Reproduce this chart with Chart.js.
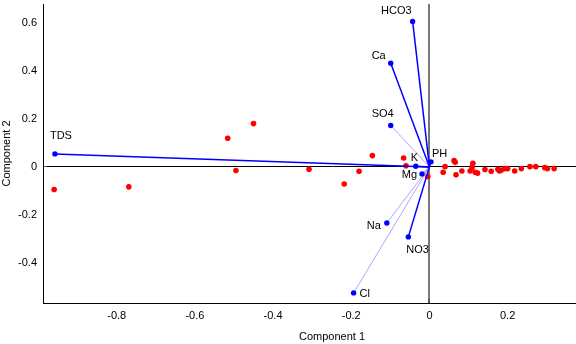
<!DOCTYPE html>
<html>
<head>
<meta charset="utf-8">
<script src="https://cdn.jsdelivr.net/npm/chart.js@4.4.0/dist/chart.umd.min.js"></script>
<style>
    body { margin: 0; background: #fff; overflow: hidden; }
    #wrap { width: 625px; height: 344px; }
</style>
</head>
<body>
<div id="wrap"><canvas id="biplot" width="625" height="344"></canvas></div>
<script>
// variable loadings (blue vectors)
const varNames = ['TDS', 'HCO3', 'Ca', 'SO4', 'PH', 'K', 'Mg', 'Na', 'NO3', 'Cl'];
const varX = [-0.958, -0.043, -0.099, -0.099, 0.004, -0.035, -0.019, -0.109, -0.054, -0.194];
const varY = [0.054, 0.605, 0.431, 0.172, 0.021, 0.003, -0.029, -0.233, -0.291, -0.524];

// observation scores (red dots)
const obsX = [-0.960, -0.769, -0.516, -0.450, -0.495, -0.308, -0.218, -0.180, -0.146, -0.066,
    -0.060, -0.004, 0.040, 0.035, 0.063, 0.066, 0.068, 0.083, 0.111, 0.109,
    0.104, 0.117, 0.123, 0.142, 0.158, 0.175, 0.179, 0.184, 0.193, 0.200,
    0.218, 0.235, 0.257, 0.272, 0.295, 0.302, 0.319];
const obsY = [-0.094, -0.083, 0.119, 0.180, -0.015, -0.010, -0.071, -0.018, 0.047, 0.037,
    0.005, -0.040, 0.001, -0.022, 0.026, 0.019, -0.033, -0.017, 0.015, -0.002,
    -0.017, -0.022, -0.026, -0.011, -0.018, -0.010, -0.017, -0.013, -0.007, -0.007,
    -0.017, -0.007, 0.001, 0.001, -0.003, -0.007, -0.007];

const xTicks = [-0.8, -0.6, -0.4, -0.2, 0, 0.2];
const yTicks = [-0.4, -0.2, 0, 0.2, 0.4, 0.6];

// styling for each vector: heavy or light stroke, label offset/alignment
const heavy = [true, true, true, false, true, true, false, false, true, false];
const labelStyle = [
    { dx: -5, dy: -18, align: 'left' },
    { dx: -1, dy: -10, align: 'right' },
    { dx: -5, dy: -7, align: 'right' },
    { dx: 3, dy: -12, align: 'right' },
    { dx: 1, dy: -8, align: 'left' },
    { dx: -5, dy: -8, align: 'left' },
    { dx: -5, dy: 1, align: 'right' },
    { dx: -6, dy: 3, align: 'right' },
    { dx: -2, dy: 13, align: 'left' },
    { dx: 6, dy: 1, align: 'left' }
];

const FONT = '"Liberation Sans", Arial, Helvetica, sans-serif';

const datasets = [{
    label: 'scores',
    data: obsX.map((x, i) => ({ x: x, y: obsY[i] })),
    showLine: false,
    pointRadius: 2.8,
    pointBackgroundColor: '#ff0000',
    pointBorderWidth: 0,
    order: 2
}];

varNames.forEach((name, i) => {
    datasets.push({
        label: name,
        data: [{ x: 0, y: 0 }, { x: varX[i], y: varY[i] }],
        showLine: true,
        borderColor: heavy[i] ? '#0000ff' : 'rgba(70,70,255,0.6)',
        borderWidth: heavy[i] ? 1.5 : 0.8,
        pointRadius: [0, 2.7],
        pointBackgroundColor: '#0000ff',
        pointBorderWidth: 0,
        order: 1
    });
});

const varLabels = {
    id: 'varLabels',
    afterDatasetsDraw(chart) {
        const ctx = chart.ctx;
        const xs = chart.scales.x, ys = chart.scales.y;
        ctx.save();
        ctx.font = '11px ' + FONT;
        ctx.fillStyle = '#000';
        ctx.textBaseline = 'middle';
        varNames.forEach((name, i) => {
            const st = labelStyle[i];
            ctx.textAlign = st.align;
            ctx.fillText(name, xs.getPixelForValue(varX[i]) + st.dx, ys.getPixelForValue(varY[i]) + st.dy);
        });
        ctx.restore();
    }
};

const zeroColor = (axisColor) => (c) => (c.tick && c.tick.value === 0 ? axisColor : 'rgba(0,0,0,0)');

new Chart(document.getElementById('biplot'), {
    type: 'scatter',
    data: { datasets: datasets },
    options: {
        responsive: false,
        animation: false,
        devicePixelRatio: 1,
        layout: { padding: 0 },
        plugins: { legend: { display: false }, tooltip: { enabled: false } },
        scales: {
            x: {
                type: 'linear',
                min: -0.9885,
                max: 0.49,
                afterBuildTicks: s => { s.ticks = xTicks.map(v => ({ value: v })); },
                afterFit: s => { s.height = 41; s.paddingLeft = 0; s.paddingRight = 0; },
                border: { display: true, color: '#000', width: 1 },
                grid: {
                    drawOnChartArea: true,
                    color: zeroColor('#777'),
                    lineWidth: c => (c.tick && c.tick.value === 0 ? 2 : 0),
                    drawTicks: true,
                    tickLength: -4,
                    tickColor: '#555'
                },
                ticks: {
                    padding: 10,
                    color: '#000',
                    font: { family: FONT, size: 11 },
                    maxRotation: 0
                },
                title: {
                    display: true,
                    text: 'Component 1',
                    color: '#000',
                    font: { family: FONT, size: 11 },
                    padding: { top: 0, bottom: 0 }
                }
            },
            y: {
                type: 'linear',
                min: -0.566,
                max: 0.6775,
                afterBuildTicks: s => { s.ticks = yTicks.map(v => ({ value: v })); },
                afterFit: s => { s.width = 43; s.paddingTop = 0; s.paddingBottom = 0; },
                border: { display: true, color: '#000', width: 1 },
                grid: {
                    drawOnChartArea: true,
                    color: zeroColor('#000'),
                    lineWidth: c => (c.tick && c.tick.value === 0 ? 1 : 0),
                    drawTicks: true,
                    tickLength: -4,
                    tickColor: '#555'
                },
                ticks: {
                    padding: 10,
                    color: '#000',
                    font: { family: FONT, size: 11 }
                },
                title: {
                    display: true,
                    text: 'Component 2',
                    color: '#000',
                    font: { family: FONT, size: 11 },
                    padding: { top: 0, bottom: 0 }
                }
            }
        }
    },
    plugins: [varLabels]
});
</script>
</body>
</html>
